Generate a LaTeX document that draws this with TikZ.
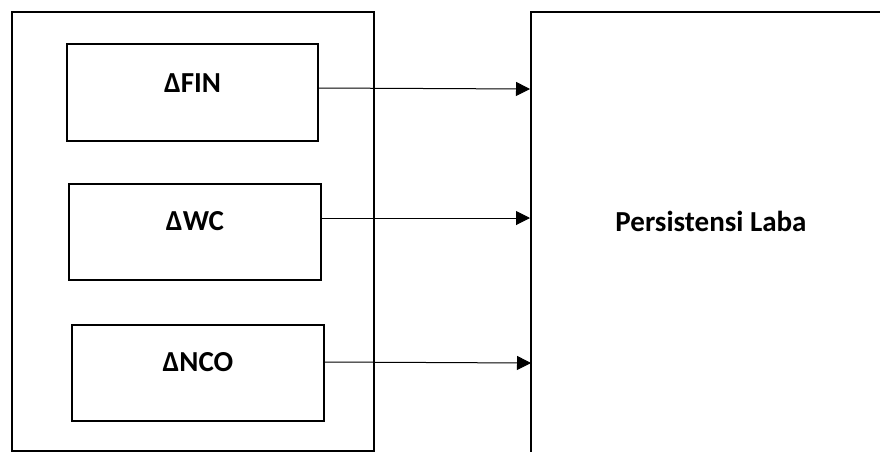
\documentclass[tikz,border=0pt]{standalone}
\usepackage{fontspec}
\setmainfont{Carlito}
\usetikzlibrary{arrows.meta}
\usetikzlibrary{positioning}
\tikzstyle{framebox}=[draw=black, line width=2pt, inner sep=0pt, anchor=north west]
\tikzstyle{varbox}=[draw=black, line width=2pt, inner sep=0pt, minimum width=252pt, minimum height=96pt]
\tikzstyle{varname}=[font=\fontsize{29}{34}\selectfont\bfseries, inner sep=0pt]
\tikzstyle{link}=[line width=1pt, -{Triangle[length=14pt,width=14pt]}]

\begin{document}
\begin{tikzpicture}[x=1pt,y=-1pt]
\useasboundingbox (0,0) rectangle (880,451);
\clip (0,0) rectangle (880,451);
\node[framebox, minimum width=362pt, minimum height=439pt] (group) at (11,11){};
\node[framebox, minimum width=420pt, minimum height=520pt] (laba) at (530,11){};
\node[varname] (labatxt) at (711,221){Persistensi Laba};
\node[varbox, minimum width=251pt, minimum height=97pt] (fin) at (192.5,92.5){};
\node[varbox] (wc) at (195,232){};
\node[varbox] (nco) at (198,373){};
\node[varname] (fintxt) at (192.5,83){ΔFIN};
\node[varname] (wctxt) at (195,221.5){ΔWC};
\node[varname] (ncotxt) at (198,362.5){ΔNCO};
\coordinate (finin) at (530,89);
\coordinate (wcin) at (530,218);
\coordinate (ncoin) at (531,363);
\draw[link] ([yshift=4.5pt]fin.east) -- (finin);
\draw[link] ([yshift=14pt]wc.east) -- (wcin);
\draw[link] ([yshift=11pt]nco.east) -- (ncoin);
\end{tikzpicture}
\end{document}
